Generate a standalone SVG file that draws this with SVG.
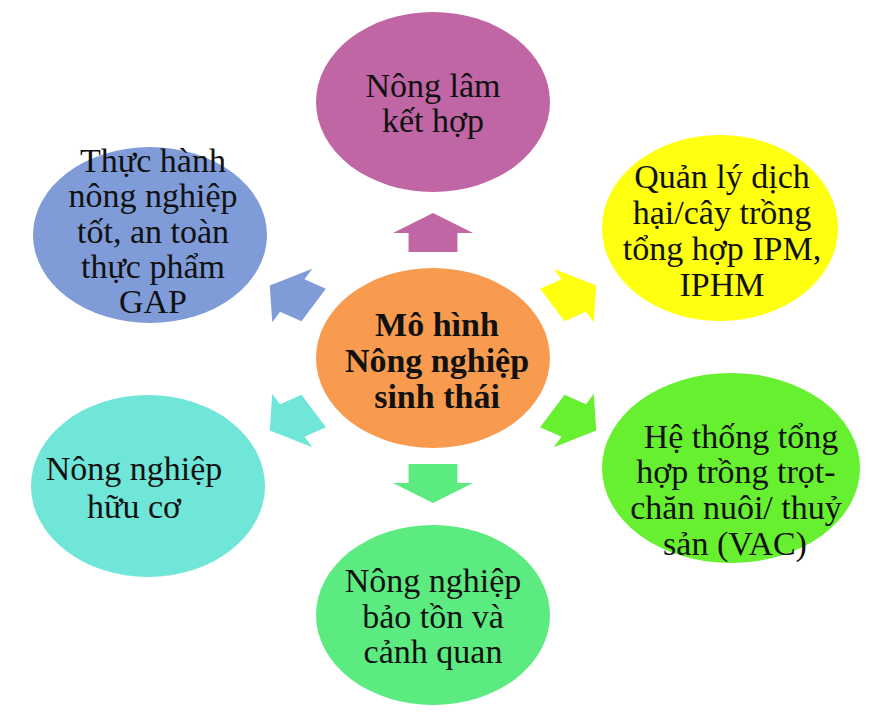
<svg xmlns="http://www.w3.org/2000/svg" width="880" height="720" viewBox="0 0 880 720">
<style>
  .t { font-family: "Liberation Serif", "Times New Roman", serif; font-size: 34px; fill: #111; text-anchor: middle; }
  .tb { font-family: "Liberation Serif", "Times New Roman", serif; font-size: 34px; font-weight: bold; fill: #111; text-anchor: middle; }
</style>
<defs>
  <polygon id="arr" points="0,-145 30.8,-125 18.8,-125 18.8,-106 -18.8,-106 -18.8,-125 -30.8,-125"/>
</defs>
<rect width="880" height="720" fill="#ffffff"/>

<g id="connectors">
  <use href="#arr" fill="#C066A4" transform="translate(433,358) scale(1.3,1) rotate(0)"/>
  <use href="#arr" fill="#FFFF10" transform="translate(433,358) scale(1.3,1) rotate(60)"/>
  <use href="#arr" fill="#66F030" transform="translate(433,358) scale(1.3,1) rotate(120)"/>
  <use href="#arr" fill="#5CEB80" transform="translate(433,358) scale(1.3,1) rotate(180)"/>
  <use href="#arr" fill="#70E6D8" transform="translate(433,358) scale(1.3,1) rotate(240)"/>
  <use href="#arr" fill="#7F9CD8" transform="translate(433,358) scale(1.3,1) rotate(300)"/>
</g>

<g id="node-center">
  <ellipse cx="433" cy="358" rx="117" ry="90" fill="#F89B4F"/>
  <text class="tb" x="437" y="336">Mô hình</text>
  <text class="tb" x="437" y="372">Nông nghiệp</text>
  <text class="tb" x="437" y="408">sinh thái</text>
</g>

<g id="node-nonglam">
  <ellipse cx="433" cy="102" rx="117" ry="90" fill="#C066A4"/>
  <text class="t" x="433" y="97">Nông lâm</text>
  <text class="t" x="433" y="132">kết hợp</text>
</g>

<g id="node-gap">
  <ellipse cx="150" cy="235" rx="117" ry="88" fill="#7F9CD8"/>
  <text class="t" x="153" y="172">Thực hành</text>
  <text class="t" x="153" y="207">nông nghiệp</text>
  <text class="t" x="153" y="243">tốt, an toàn</text>
  <text class="t" x="153" y="278">thực phẩm</text>
  <text class="t" x="153" y="313">GAP</text>
</g>

<g id="node-ipm">
  <ellipse cx="720" cy="228" rx="118" ry="93" fill="#FFFF10"/>
  <text class="t" x="722" y="188">Quản lý dịch</text>
  <text class="t" x="722" y="224">hại/cây trồng</text>
  <text class="t" x="722" y="260">tổng hợp IPM,</text>
  <text class="t" x="722" y="296">IPHM</text>
</g>

<g id="node-vac">
  <ellipse cx="731" cy="468" rx="129" ry="95" fill="#66F030"/>
  <text class="t" x="741" y="448">Hệ thống tổng</text>
  <text class="t" x="736" y="483">hợp trồng trọt-</text>
  <text class="t" x="736" y="519">chăn nuôi/ thuỷ</text>
  <text class="t" x="735" y="555">sản (VAC)</text>
</g>

<g id="node-huuco">
  <ellipse cx="148" cy="486" rx="117" ry="91" fill="#70E6D8"/>
  <text class="t" x="134" y="480">Nông nghiệp</text>
  <text class="t" x="134" y="518">hữu cơ</text>
</g>

<g id="node-baoton">
  <ellipse cx="433" cy="615" rx="117" ry="90" fill="#5CEB80"/>
  <text class="t" x="433" y="592">Nông nghiệp</text>
  <text class="t" x="433" y="628">bảo tồn và</text>
  <text class="t" x="433" y="663">cảnh quan</text>
</g>
</svg>
